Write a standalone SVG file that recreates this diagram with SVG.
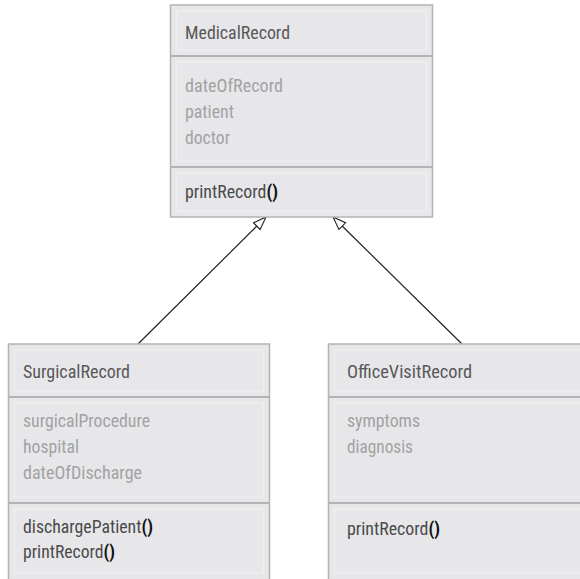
<svg xmlns="http://www.w3.org/2000/svg" width="580" height="579" viewBox="0 0 580 579">
  <defs>
    <marker id="inherit" markerUnits="userSpaceOnUse" markerWidth="16" markerHeight="12" refX="14" refY="5.5" orient="auto">
      <path d="M1,0.8 L14,5.5 L1,10.2 z" fill="#ffffff" stroke="#222222" stroke-width="1.1" stroke-linejoin="miter"/>
    </marker>
  </defs>
  <style>
    .box { fill: #e7e7e9; stroke: #b3b3b5; stroke-width: 1.5; }
    .inner { fill: none; stroke: #f0f0f2; stroke-width: 1.2; }
    .sep { stroke: #b3b3b5; stroke-width: 2; }
    text { font-family: "Liberation Sans Narrow", "Roboto Condensed", Roboto, sans-serif; font-size: 18px; }
    .name { fill: #58585a; }
    .attr { fill: #a2a2a4; }
    .op { fill: #4a4a4c; }
    .par { fill: #111111; font-weight: bold; }
    .link { stroke: #222222; stroke-width: 1.2; fill: none; }
  </style>

  <rect width="580" height="579" fill="#ffffff"/>

  <!-- connectors: generalisation arrows -->
  <g id="connectors">
    <line class="link" x1="138" y1="344" x2="266" y2="217" marker-end="url(#inherit)"/>
    <line class="link" x1="462" y1="344" x2="333" y2="217" marker-end="url(#inherit)"/>
  </g>

  <!-- base class -->
  <g id="MedicalRecord">
    <rect class="box" x="170.5" y="5" width="262" height="212"/>
    <line class="sep" x1="170.5" y1="56" x2="432.5" y2="56"/>
    <line class="sep" x1="170.5" y1="167" x2="432.5" y2="167"/>
    <rect class="inner" x="176.5" y="11" width="250" height="39"/>
    <rect class="inner" x="176.5" y="62" width="250" height="99"/>
    <rect class="inner" x="176.5" y="173" width="250" height="38"/>
    <text class="name" x="185" y="39" textLength="105" lengthAdjust="spacingAndGlyphs">MedicalRecord</text>
    <text class="attr" x="185" y="92" textLength="98" lengthAdjust="spacingAndGlyphs">dateOfRecord</text>
    <text class="attr" x="185" y="118" textLength="49" lengthAdjust="spacingAndGlyphs">patient</text>
    <text class="attr" x="185" y="144" textLength="45" lengthAdjust="spacingAndGlyphs">doctor</text>
    <text class="op" x="185" y="198" textLength="93" lengthAdjust="spacingAndGlyphs">printRecord<tspan class="par">()</tspan></text>
  </g>

  <!-- subclass: surgical -->
  <g id="SurgicalRecord">
    <rect class="box" x="8.5" y="344" width="261" height="245"/>
    <line class="sep" x1="8.5" y1="397" x2="269.5" y2="397"/>
    <line class="sep" x1="8.5" y1="503" x2="269.5" y2="503"/>
    <rect class="inner" x="14.5" y="350" width="249" height="41"/>
    <rect class="inner" x="14.5" y="403" width="249" height="94"/>
    <rect class="inner" x="14.5" y="509" width="249" height="64"/>
    <text class="name" x="23" y="378" textLength="107" lengthAdjust="spacingAndGlyphs">SurgicalRecord</text>
    <text class="attr" x="23" y="427" textLength="127" lengthAdjust="spacingAndGlyphs">surgicalProcedure</text>
    <text class="attr" x="23" y="453" textLength="56" lengthAdjust="spacingAndGlyphs">hospital</text>
    <text class="attr" x="23" y="479" textLength="119" lengthAdjust="spacingAndGlyphs">dateOfDischarge</text>
    <text class="op" x="23" y="533" textLength="130" lengthAdjust="spacingAndGlyphs">dischargePatient<tspan class="par">()</tspan></text>
    <text class="op" x="23" y="558" textLength="92" lengthAdjust="spacingAndGlyphs">printRecord<tspan class="par">()</tspan></text>
  </g>

  <!-- subclass: office visit -->
  <g id="OfficeVisitRecord">
    <rect class="box" x="328.5" y="344" width="270" height="245"/>
    <line class="sep" x1="328.5" y1="397" x2="598" y2="397"/>
    <line class="sep" x1="328.5" y1="503" x2="598" y2="503"/>
    <rect class="inner" x="334.5" y="350" width="260" height="41"/>
    <rect class="inner" x="334.5" y="403" width="260" height="94"/>
    <rect class="inner" x="334.5" y="509" width="260" height="64"/>
    <text class="name" x="347" y="378" textLength="125" lengthAdjust="spacingAndGlyphs">OfficeVisitRecord</text>
    <text class="attr" x="347" y="427" textLength="73" lengthAdjust="spacingAndGlyphs">symptoms</text>
    <text class="attr" x="347" y="453" textLength="66" lengthAdjust="spacingAndGlyphs">diagnosis</text>
    <text class="op" x="347" y="535" textLength="93" lengthAdjust="spacingAndGlyphs">printRecord<tspan class="par">()</tspan></text>
  </g>
</svg>
